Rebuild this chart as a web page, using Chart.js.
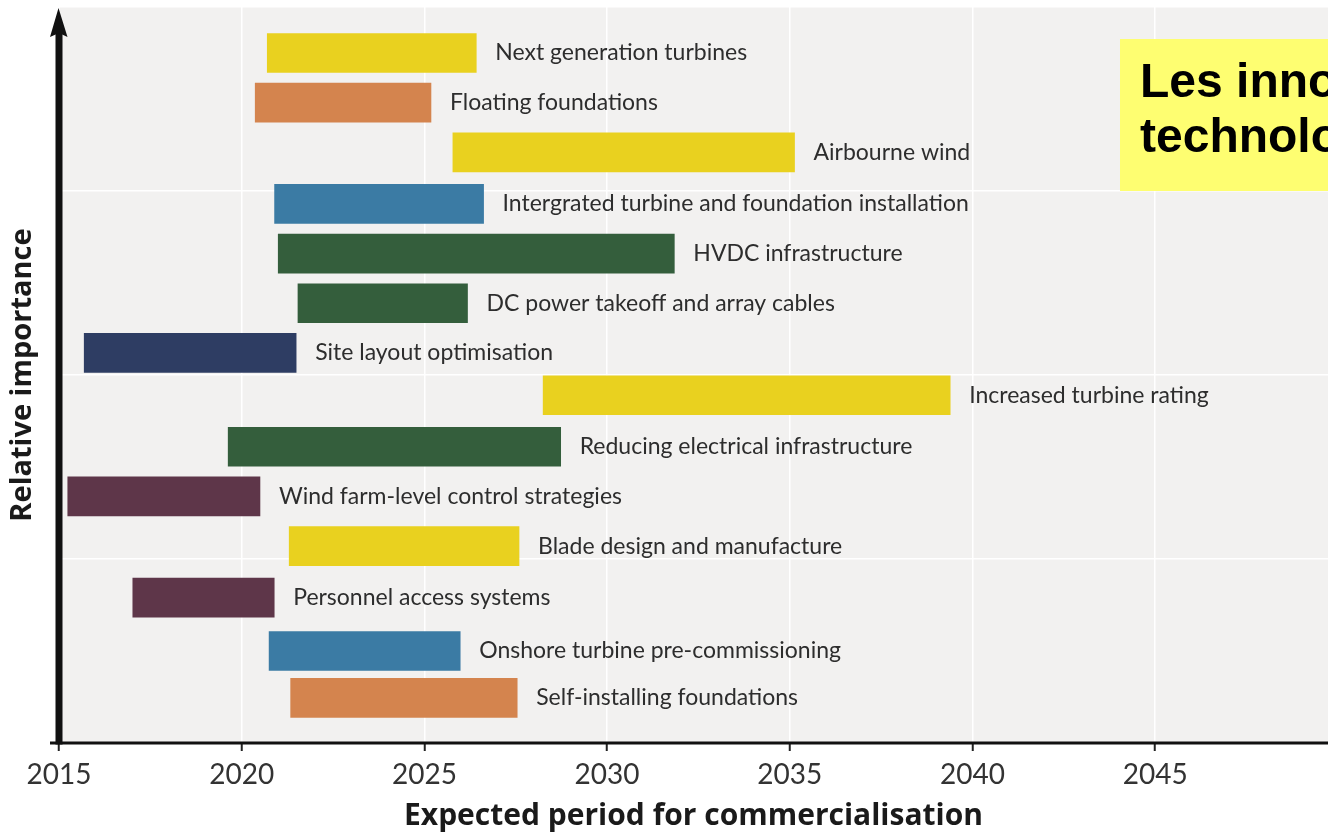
<!DOCTYPE html>
<html>
<head>
<meta charset="utf-8">
<script src="https://cdn.jsdelivr.net/npm/chart.js@4/dist/chart.umd.min.js"></script>
<style>
  html, body { margin: 0; padding: 0; background: #ffffff; }
  #wrap { width: 1328px; height: 835px; position: relative; }
</style>
</head>
<body>
<div id="wrap"><canvas id="chart" width="1328" height="835"></canvas></div>
<script>
// Offshore wind innovations: expected commercialisation window vs. relative importance
const technologies = [
  'Next generation turbines',
  'Floating foundations',
  'Airbourne wind',
  'Intergrated turbine and foundation installation',
  'HVDC infrastructure',
  'DC power takeoff and array cables',
  'Site layout optimisation',
  'Increased turbine rating',
  'Reducing electrical infrastructure',
  'Wind farm-level control strategies',
  'Blade design and manufacture',
  'Personnel access systems',
  'Onshore turbine pre-commissioning',
  'Self-installing foundations'
];
const startYear = [2020.70, 2020.37, 2025.78, 2020.90, 2021.00, 2021.54, 2015.69, 2028.25, 2019.63, 2015.24, 2021.30, 2017.02, 2020.75, 2021.34];
const endYear   = [2026.42, 2025.18, 2035.13, 2026.62, 2031.84, 2026.18, 2021.49, 2039.39, 2028.73, 2020.50, 2027.59, 2020.89, 2025.98, 2027.54];
const importance = [3.75, 3.48, 3.21, 2.93, 2.66, 2.39, 2.12, 1.89, 1.61, 1.34, 1.07, 0.79, 0.50, 0.245];
const techGroup = ['turbine', 'foundation', 'turbine', 'installation', 'electrical', 'electrical', 'layout',
                   'turbine', 'electrical', 'operations', 'turbine', 'operations', 'installation', 'foundation'];
const yearTicks = [2015, 2020, 2025, 2030, 2035, 2040, 2045];
const importanceGrid = [0, 1, 2, 3, 4];
const xAxisTitle = 'Expected period for commercialisation';
const yAxisTitle = 'Relative importance';
const headline = ['Les innovations', 'technologiques'];

const groupColor = {
  turbine: '#e9d11f',
  foundation: '#d4844e',
  installation: '#3b7ba4',
  electrical: '#345e3c',
  layout: '#2e3d63',
  operations: '#5e3649'
};

const bars = technologies.map((t, i) => ({ x: [startYear[i], endYear[i]], y: importance[i] }));

const TEXT_DARK = '#2d2d2d';

const decorations = {
  id: 'decorations',
  beforeDraw(chart) {
    const { ctx, chartArea: a } = chart;
    ctx.save();
    ctx.fillStyle = '#ffffff';
    ctx.fillRect(0, 0, chart.width, chart.height);
    ctx.fillStyle = '#f2f1f0';
    ctx.fillRect(a.left, a.top, a.right - a.left, a.bottom - a.top);
    ctx.restore();
  },
  afterDraw(chart) {
    const { ctx, chartArea: a } = chart;
    const meta = chart.getDatasetMeta(0);
    ctx.save();

    // names next to the bars
    ctx.font = '23px Lato';
    ctx.fillStyle = TEXT_DARK;
    ctx.textBaseline = 'middle';
    ctx.textAlign = 'left';
    meta.data.forEach((el, i) => {
      ctx.fillText(technologies[i], Math.max(el.x, el.base) + 19, el.y);
    });

    // horizontal axis
    ctx.strokeStyle = '#111111';
    ctx.lineWidth = 3;
    ctx.beginPath();
    ctx.moveTo(50, a.bottom);
    ctx.lineTo(a.right, a.bottom);
    ctx.stroke();

    // vertical axis with arrow head
    ctx.lineWidth = 7;
    ctx.beginPath();
    ctx.moveTo(a.left, a.bottom + 1.5);
    ctx.lineTo(a.left, 30);
    ctx.stroke();
    ctx.fillStyle = '#111111';
    ctx.beginPath();
    ctx.moveTo(a.left - 0.5, 8);
    ctx.lineTo(a.left - 9, 37);
    ctx.lineTo(a.left, 33);
    ctx.lineTo(a.left + 8.5, 37);
    ctx.closePath();
    ctx.fill();

    // headline box
    ctx.fillStyle = '#fefe71';
    ctx.fillRect(1120, 39, 260, 152);
    ctx.fillStyle = '#000000';
    ctx.font = 'bold 48px "Liberation Sans"';
    ctx.textBaseline = 'alphabetic';
    ctx.fillText(headline[0], 1140, 97);
    ctx.fillText(headline[1], 1140, 152);

    ctx.restore();
  }
};

new Chart(document.getElementById('chart'), {
  type: 'bar',
  data: {
    datasets: [{
      data: bars,
      backgroundColor: techGroup.map(g => groupColor[g]),
      borderWidth: 0,
      barThickness: 39
    }]
  },
  options: {
    indexAxis: 'y',
    responsive: false,
    animation: false,
    devicePixelRatio: 1,
    layout: { padding: { top: 7, right: 0, bottom: 0, left: 0 } },
    plugins: { legend: { display: false }, tooltip: { enabled: false } },
    scales: {
      x: {
        type: 'linear',
        position: 'bottom',
        min: 2015,
        max: 2049.73,
        z: 1,
        afterBuildTicks: s => { s.ticks = yearTicks.map(v => ({ value: v })); },
        afterFit: s => { s.height = 92; },
        border: { display: false },
        grid: { color: '#ffffff', lineWidth: 1.5, tickColor: '#222222', tickLength: 8, tickWidth: 2 },
        ticks: {
          color: '#333333',
          font: { family: 'Lato', size: 28 },
          padding: 7,
          maxRotation: 0,
          callback: v => String(v)
        },
        title: {
          display: true,
          text: xAxisTitle,
          color: '#1a1a1a',
          font: { family: 'Open Sans', size: 30, weight: 'bold' },
          padding: { top: 0, bottom: 1 }
        }
      },
      y: {
        type: 'linear',
        position: 'left',
        min: 0,
        max: 4,
        offset: false,
        z: 1,
        afterBuildTicks: s => { s.ticks = importanceGrid.map(v => ({ value: v })); },
        afterFit: s => { s.width = 59; },
        border: { display: false },
        grid: { color: '#ffffff', lineWidth: 1.5, drawTicks: false, offset: false },
        ticks: { display: false },
        title: {
          display: true,
          text: yAxisTitle,
          color: '#1a1a1a',
          font: { family: 'Open Sans', size: 29, weight: 'bold' },
          padding: { top: 5, bottom: 0 }
        }
      }
    }
  },
  plugins: [decorations]
});
</script>
</body>
</html>
